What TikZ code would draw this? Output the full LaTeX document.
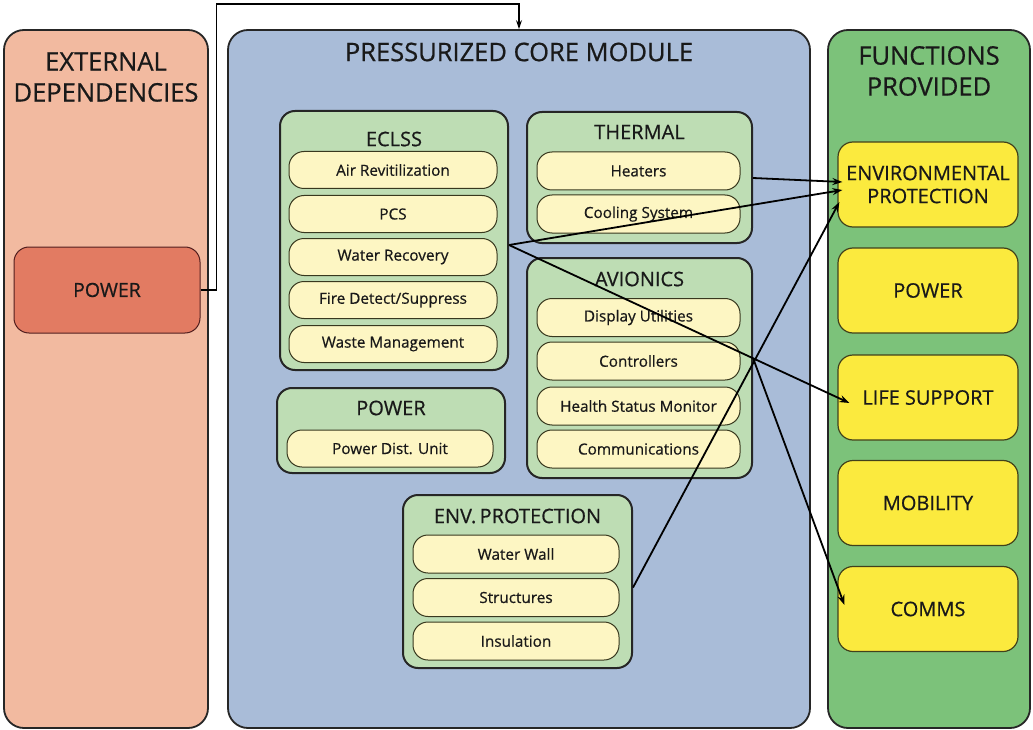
\documentclass[tikz,border=0pt]{standalone}
\usepackage{fontspec}
\setmainfont{Open Sans}[FakeBold=0.6]
\usetikzlibrary{arrows.meta,calc}
\definecolor{extbg}{HTML}{F2BAA0}
\definecolor{extpw}{HTML}{E27B62}
\definecolor{corebg}{HTML}{A9BCD8}
\definecolor{grpbg}{HTML}{BEDDB4}
\definecolor{itembg}{HTML}{FDF6C3}
\definecolor{funcbg}{HTML}{7CC27A}
\definecolor{funcbox}{HTML}{FBEA3E}
\definecolor{edge}{HTML}{262626}
\tikzset{
  panel/.style={draw=edge, line width=1.8pt, rounded corners=20pt, inner sep=0pt},
  grp/.style={draw=edge, line width=2pt, fill=grpbg, rounded corners=15pt, inner sep=0pt},
  item/.style={draw=edge!80!olive, line width=1pt, fill=itembg, rounded corners=15pt, inner sep=0pt, font=\fontsize{15.3}{18}\selectfont, text=black!90},
  fbox/.style={draw=edge!70!olive, line width=1.2pt, fill=funcbox, rounded corners=15pt, inner sep=0pt, minimum width=180pt, minimum height=85pt, font=\fontsize{20}{23}\selectfont, align=center, text=black!90},
  ptitle/.style={font=\fontsize{25.5}{31}\selectfont, align=center, text=black!90, inner sep=0pt},
  gtitle/.style={font=\fontsize{20}{22}\selectfont, text=black!90, inner sep=0pt},
  arr/.style={draw=black, line width=1.8pt, -{Stealth[length=10pt,width=7pt]}},
}
\begin{document}
\begin{tikzpicture}[x=1pt,y=-1pt]
\useasboundingbox[fill=white] (0,0) rectangle (1033,730);
% panels
\node[panel, fill=extbg, minimum width=204pt, minimum height=698pt] (ext) at (106,379) {};
\node[panel, fill=corebg, minimum width=582pt, minimum height=698pt] (core) at (519,379) {};
\node[panel, fill=funcbg, minimum width=202pt, minimum height=698pt] (func) at (929,379) {};
\node[ptitle] (extt) at (106,77) {EXTERNAL\\DEPENDENCIES};
\node[ptitle] (coret) at (519,52) {PRESSURIZED CORE MODULE};
\node[ptitle] (funct) at (929,71) {FUNCTIONS\\PROVIDED};
% external power
\node[draw=edge!80!red, line width=1pt, fill=extpw, rounded corners=15pt, minimum width=186pt, minimum height=86pt, font=\fontsize{19.5}{22}\selectfont, text=black!90] (pw) at (107,290) {POWER};
% ECLSS
\node[grp, minimum width=228pt, minimum height=259pt] (ec) at (394,240.5) {};
\node[gtitle] (ect) at (394,139) {ECLSS};
\node[item, minimum width=208pt, minimum height=37pt] (ar) at (393,170) {Air Revitilization};
\node[item, minimum width=208pt, minimum height=37pt] (pcs) at (393,214) {PCS};
\node[item, minimum width=208pt, minimum height=37pt] (wr) at (393,257) {Water Recovery};
\node[item, minimum width=208pt, minimum height=37pt] (fd) at (393,300) {Fire Detect/Suppress};
\node[item, minimum width=208pt, minimum height=37pt] (wm) at (393,344) {Waste Management};
% THERMAL
\node[grp, minimum width=225pt, minimum height=131pt] (th) at (639.5,177.5) {};
\node[gtitle] (tht) at (639.5,132) {THERMAL};
\node[item, minimum width=203pt, minimum height=38pt] (he) at (638.5,171) {Heaters};
\node[item, minimum width=203pt, minimum height=38pt] (cs) at (638.5,214) {Cooling System};
% AVIONICS
\node[grp, minimum width=225pt, minimum height=220pt] (av) at (639.5,368) {};
\node[gtitle] (avt) at (639.5,279) {AVIONICS};
\node[item, minimum width=203pt, minimum height=38pt] (du) at (638.5,317.5) {Display Utilities};
\node[item, minimum width=203pt, minimum height=38pt] (ct) at (638.5,361) {Controllers};
\node[item, minimum width=203pt, minimum height=38pt] (hs) at (638.5,406) {Health Status Monitor};
\node[item, minimum width=203pt, minimum height=38pt] (cm) at (638.5,449) {Communications};
% POWER group
\node[grp, minimum width=228pt, minimum height=85pt] (pg) at (391,430.5) {};
\node[gtitle] (pgt) at (391,408) {POWER};
\node[item, minimum width=206pt, minimum height=37pt] (pd) at (390,448.5) {Power Dist. Unit};
% ENV PROTECTION
\node[grp, minimum width=229pt, minimum height=173pt] (eg) at (517.5,581.5) {};
\node[gtitle] (egt) at (517.5,516) {ENV.\,PROTECTION};
\node[item, minimum width=206pt, minimum height=38pt] (ww) at (516,554) {Water Wall};
\node[item, minimum width=206pt, minimum height=38pt] (st) at (516,597.5) {Structures};
\node[item, minimum width=206pt, minimum height=38pt] (in) at (516,641) {Insulation};
% functions
\node[fbox] (fenv) at (928,184.5) {ENVIRONMENTAL\\PROTECTION};
\node[fbox] (fpw) at (928,290.5) {POWER};
\node[fbox] (fls) at (928,397.5) {LIFE SUPPORT};
\node[fbox] (fmo) at (928,503) {MOBILITY};
\node[fbox] (fcm) at (928,609) {COMMS};
% connectors
\draw[arr, line width=1.5pt, -{Stealth[length=9pt,width=6pt]}] (pw.east) -- ++(16,0) |- ([yshift=25pt]core.north) -- (core.north);
\draw[arr] ([yshift=-7pt]he.east -| th.east) -- ([xshift=5pt,yshift=2.5pt]fenv.west);
\draw[arr] ([yshift=12pt]wr.east -| ec.east) -- ([xshift=5pt,yshift=-5.5pt]fenv.west);
\draw[arr] ([yshift=12pt]wr.east -| ec.east) -- ([xshift=12pt,yshift=-5.5pt]fls.west);
\draw[arr] ([yshift=10pt]st.east -| eg.east) -- ([xshift=2pt,yshift=-17.5pt]fenv.west);
\draw[arr] ([yshift=3pt]ct.east -| av.east) -- ([xshift=7pt,yshift=4pt]fcm.west);
\end{tikzpicture}
\end{document}
